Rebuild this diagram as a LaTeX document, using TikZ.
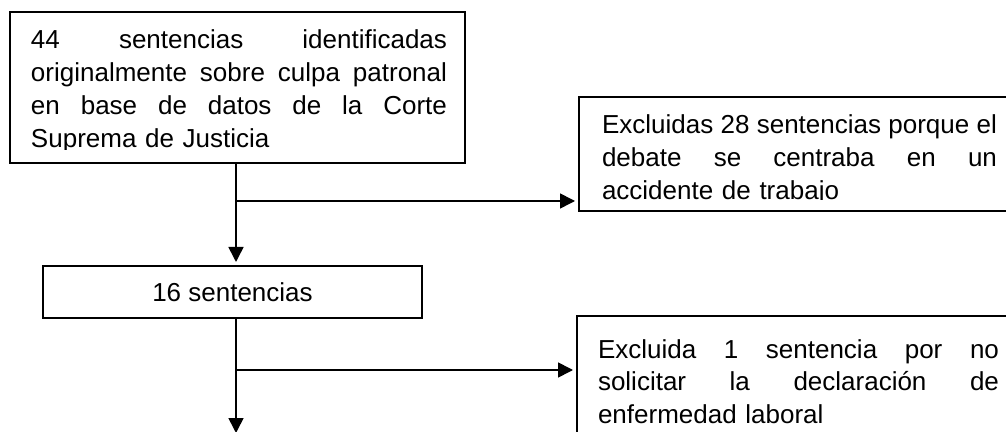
\documentclass[tikz,border=0pt]{standalone}
\usepackage{fontspec}
\setmainfont{Liberation Sans}
\usetikzlibrary{arrows.meta}
\newcommand{\jline}[2]{\leavevmode\hbox to #1{#2}}
\begin{document}
\begin{tikzpicture}[x=0.5pt,y=-0.5pt,
  box/.style={draw, line width=0.9pt, inner sep=0pt, outer sep=0pt},
  conn/.style={line width=0.8pt, shorten >=2pt, -{Triangle[length=7.5pt,width=7.5pt]}},
  plain/.style={line width=0.8pt},
  txt/.style={inner sep=0pt, outer sep=0pt, anchor=base west, align=left, font=\fontsize{13}{16.25}\selectfont},
  lbl/.style={font=\fontsize{13}{16.25}\selectfont}]
\clip (0,0) rectangle (1006,432);
\useasboundingbox (0,0) rectangle (1006,432);

% boxes
\node[box, minimum width=227.5pt, minimum height=75.5pt] (b1) at (237.5,87.5) {};
\node[box, minimum width=216.5pt, minimum height=57pt] (b2) at (795.5,154) {};
\node[box, lbl, minimum width=189.5pt, minimum height=26pt] (b16) at (232.5,292) {16 sentencias};
\node[box, minimum width=217.5pt, minimum height=64.5pt] (b3) at (794.5,380.5) {};

% texts (clipped like the original text boxes)
\begin{scope}
\clip (10,12) rectangle (465,150);
\node[txt, text width=208pt, font=\fontsize{13}{16.5}\selectfont] (t1) at (31,49) {%
\jline{208pt}{44\hfill sentencias\hfill identificadas}\\
\jline{208pt}{originalmente\hfill sobre\hfill culpa\hfill patronal}\\
\jline{208pt}{en\hfill base\hfill de\hfill datos\hfill de\hfill la\hfill Corte}\\
Suprema de Justicia};
\end{scope}

\begin{scope}
\clip (579,97) rectangle (1010,200);
\node[txt, text width=197.5pt, font=\fontsize{13}{16.5}\selectfont] (t2) at (602,134) {%
\jline{197.5pt}{Excluidas\hfill 28\hfill sentencias\hfill porque\hfill el}\\
\jline{197.5pt}{debate\hfill se\hfill centraba\hfill en\hfill un}\\
accidente de trabajo};
\end{scope}

\node[txt, text width=200.5pt] (t3) at (598,358) {%
\jline{200.5pt}{Excluida\hfill 1\hfill sentencia\hfill por\hfill no}\\
\jline{200.5pt}{solicitar\hfill la\hfill declaración\hfill de}\\
enfermedad laboral};

% connectors
\coordinate (v1) at (236,201);
\coordinate (v2) at (236,370);
\coordinate (e) at (236,433);
\draw[plain] (b1.south -| v1) -- (v1);
\draw[conn] (v1) -- (b2.west |- v1);
\draw[conn] (v1) -- (b16.north -| v1);
\draw[plain] (b16.south -| v2) -- (v2);
\draw[conn] (v2) -- (b3.west |- v2);
\draw[conn, shorten >=0pt] (v2) -- (e);
\end{tikzpicture}
\end{document}
